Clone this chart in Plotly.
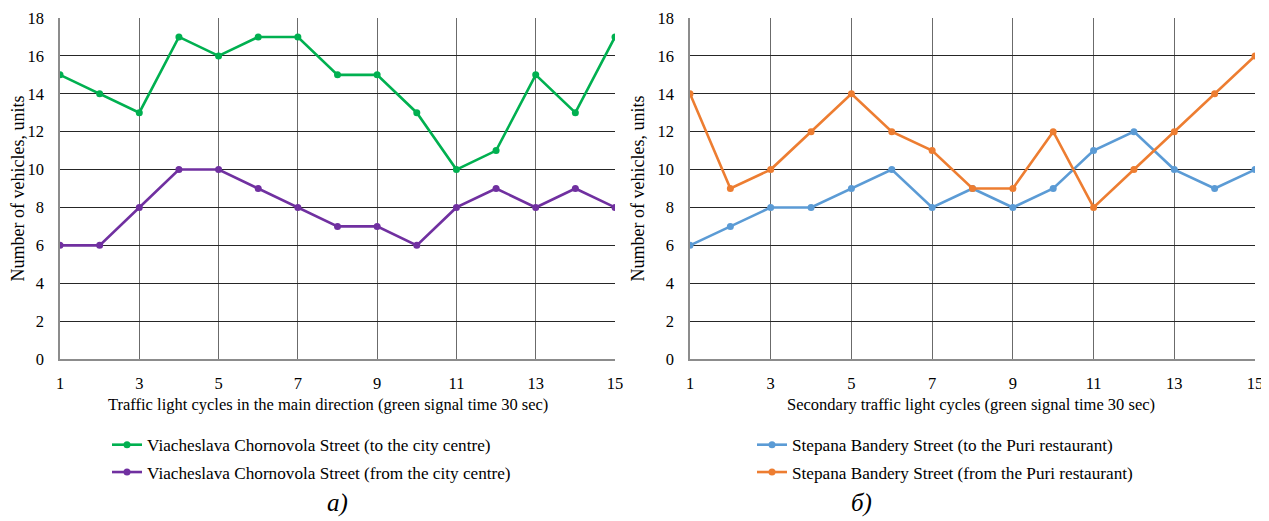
import plotly.graph_objects as go

cycles = list(range(1, 16))
left_to_centre = [15, 14, 13, 17, 16, 17, 17, 15, 15, 13, 10, 11, 15, 13, 17]
left_from_centre = [6, 6, 8, 10, 10, 9, 8, 7, 7, 6, 8, 9, 8, 9, 8]
right_to_puri = [6, 7, 8, 8, 9, 10, 8, 9, 8, 9, 11, 12, 10, 9, 10]
right_from_puri = [14, 9, 10, 12, 14, 12, 11, 9, 9, 12, 8, 10, 12, 14, 16]

names_left = ["Viacheslava Chornovola Street (to the city centre)",
              "Viacheslava Chornovola Street (from the city centre)"]
names_right = ["Stepana Bandery Street (to the Puri restaurant)",
               "Stepana Bandery Street (from the Puri restaurant)"]
x_titles = ["Traffic light cycles in the main direction (green signal time 30 sec)",
            "Secondary traffic light cycles (green signal time 30 sec)"]
y_title = "Number of vehicles, units"
x_ticks = [1, 3, 5, 7, 9, 11, 13, 15]
y_ticks = [0, 2, 4, 6, 8, 10, 12, 14, 16, 18]
panel_labels = ["а)", "б)"]

GREEN = "#00B050"
PURPLE = "#7030A0"
BLUE = "#5B9BD5"
ORANGE = "#ED7D31"
FONT = "'Liberation Serif', 'Times New Roman', Times, serif"

W, H = 1269, 521
OFF = 8  # page body margin

fig = go.Figure()

def add(y, name, color, xa, ya, legend, grp):
    fig.add_trace(go.Scatter(x=cycles, y=y, name=name, mode="lines+markers",
                             line=dict(color=color, width=2.6),
                             marker=dict(color=color, size=7),
                             xaxis=xa, yaxis=ya, legend=legend, legendgroup=grp))

add(left_to_centre, names_left[0], GREEN, "x", "y", "legend", "a")
add(left_from_centre, names_left[1], PURPLE, "x", "y", "legend", "b")
add(right_to_puri, names_right[0], BLUE, "x2", "y2", "legend2", "c")
add(right_from_puri, names_right[1], ORANGE, "x2", "y2", "legend2", "d")

def px_x(p):
    return (p - OFF) / W

def px_y(p):
    return 1 - (p - OFF) / H

tick_font = dict(family=FONT, size=16.5, color="black")
x_common = dict(showgrid=True, gridcolor="#6b6b6b", gridwidth=1.3,
                showline=True, linecolor="#8c8c8c", linewidth=1.5, mirror=False,
                ticks="", zeroline=False, automargin=False,
                ticklabeloverflow="allow", ticklabelstandoff=8,
                tickfont=tick_font, range=[1, 15], tickvals=x_ticks)
y_common = dict(showgrid=True, gridcolor="#262626", gridwidth=1.2,
                showline=True, linecolor="#8c8c8c", linewidth=1.5, mirror=False,
                ticks="", zeroline=False, automargin=False,
                ticklabeloverflow="allow", ticklabelstandoff=11,
                tickfont=tick_font, range=[0, 18], tickvals=y_ticks)

ytitle_font = dict(family=FONT, size=18, color="black")

fig.update_layout(
    width=W, height=H,
    margin=dict(l=0, r=0, t=0, b=0, autoexpand=False),
    plot_bgcolor="white", paper_bgcolor="white",
    font=dict(family=FONT, color="black", size=16),
    xaxis=dict(domain=[px_x(60), px_x(615)], anchor="y", **x_common),
    yaxis=dict(domain=[px_y(359), px_y(18)], anchor="x",
               title=dict(text=y_title, font=ytitle_font, standoff=8), **y_common),
    xaxis2=dict(domain=[px_x(690), px_x(1255)], anchor="y2", **x_common),
    yaxis2=dict(domain=[px_y(359), px_y(18)], anchor="x2",
                title=dict(text=y_title, font=ytitle_font, standoff=8), **y_common),
    legend=dict(x=px_x(107), y=px_y(427), xanchor="left", yanchor="top",
                font=dict(family=FONT, size=17.2, color="black"),
                bgcolor="rgba(0,0,0,0)", itemwidth=30, tracegroupgap=2),
    legend2=dict(x=px_x(752), y=px_y(427), xanchor="left", yanchor="top",
                 font=dict(family=FONT, size=17.2, color="black"),
                 bgcolor="rgba(0,0,0,0)", itemwidth=30, tracegroupgap=2),
    showlegend=True,
)

# x-axis titles
fig.add_annotation(x=px_x(328), y=px_y(404), xref="paper", yref="paper",
                   xanchor="center", yanchor="middle",
                   text=x_titles[0], showarrow=False,
                   font=dict(family=FONT, size=16.5, color="black"))
fig.add_annotation(x=px_x(971), y=px_y(404), xref="paper", yref="paper",
                   xanchor="center", yanchor="middle",
                   text=x_titles[1], showarrow=False,
                   font=dict(family=FONT, size=16.5, color="black"))

# panel labels
fig.add_annotation(x=px_x(337), y=px_y(503), xref="paper", yref="paper",
                   xanchor="center", yanchor="middle",
                   text="<i>" + panel_labels[0] + "</i>", showarrow=False,
                   font=dict(family=FONT, size=25, color="black"))
fig.add_annotation(x=px_x(861), y=px_y(503), xref="paper", yref="paper",
                   xanchor="center", yanchor="middle",
                   text="<i>" + panel_labels[1] + "</i>", showarrow=False,
                   font=dict(family=FONT, size=25, color="black"))

fig.write_html("out.html")
